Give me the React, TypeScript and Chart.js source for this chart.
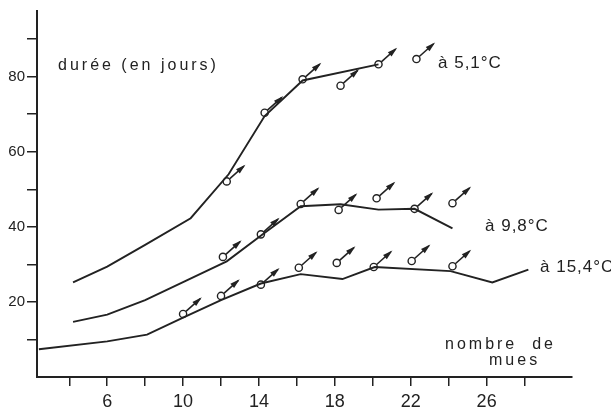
import React, { useEffect, useRef } from "react";
import { Chart, registerables } from "chart.js";

Chart.register(...registerables);

// Curves (duration in days vs number of moults)
const line51 = [
  { x: 4.2, y: 25.2 }, { x: 6, y: 29.4 }, { x: 8, y: 35.2 }, { x: 10.4, y: 42.3 },
  { x: 12.4, y: 54 }, { x: 14.3, y: 69.5 }, { x: 16.3, y: 79 }, { x: 20.3, y: 83.3 },
];
const line98 = [
  { x: 4.2, y: 14.7 }, { x: 6, y: 16.6 }, { x: 8, y: 20.5 }, { x: 10, y: 25.3 },
  { x: 12.3, y: 30.8 }, { x: 14.2, y: 38 }, { x: 16.2, y: 45.5 }, { x: 18.3, y: 46 },
  { x: 20.3, y: 44.6 }, { x: 22.2, y: 44.8 }, { x: 24.2, y: 39.6 },
];
const line154 = [
  { x: 2.4, y: 7.4 }, { x: 6, y: 9.5 }, { x: 8.1, y: 11.3 }, { x: 10, y: 15.8 },
  { x: 12, y: 20.5 }, { x: 14.1, y: 24.9 }, { x: 16.2, y: 27.4 }, { x: 18.4, y: 26.1 },
  { x: 20.1, y: 29.3 }, { x: 24.1, y: 28.2 }, { x: 26.3, y: 25.2 }, { x: 28.2, y: 28.6 },
];

// Moult points (open circles with arrows)
const pts51 = [
  { x: 12.3, y: 52.1 }, { x: 14.3, y: 70.4 }, { x: 16.3, y: 79.3 },
  { x: 18.3, y: 77.6 }, { x: 20.3, y: 83.3 }, { x: 22.3, y: 84.7 },
];
const pts98 = [
  { x: 12.1, y: 32 }, { x: 14.1, y: 38 }, { x: 16.2, y: 46.1 }, { x: 18.2, y: 44.5 },
  { x: 20.2, y: 47.6 }, { x: 22.2, y: 44.8 }, { x: 24.2, y: 46.3 },
];
const pts154 = [
  { x: 10, y: 16.8 }, { x: 12, y: 21.6 }, { x: 14.1, y: 24.6 }, { x: 16.1, y: 29.1 },
  { x: 18.1, y: 30.4 }, { x: 20.05, y: 29.3 }, { x: 22.05, y: 30.9 }, { x: 24.2, y: 29.5 },
];

const xTicks = [4, 6, 8, 10, 12, 14, 16, 18, 20, 22, 24, 26, 28];
const xLabelled = [6, 10, 14, 18, 22, 26];
const yTicks = [10, 20, 30, 40, 50, 60, 70, 80, 90];
const yLabelled = [20, 40, 60, 80];

const yTitle = "durée (en jours)";
const xTitle1 = "nombre  de";
const xTitle2 = "mues";
const seriesLabels = ["à 5,1°C", "à 9,8°C", "à 15,4°C"];

const INK = "#222";
const FONT = "'Liberation Sans', 'DejaVu Sans', sans-serif";

function drawArrow(ctx: CanvasRenderingContext2D, x: number, y: number) {
  const ang = Math.atan2(-16, 18);
  const c = Math.cos(ang), s = Math.sin(ang);
  const r0 = 3.8, len = 25, head = 10, hw = 2.8;
  ctx.beginPath();
  ctx.moveTo(x + r0 * c, y + r0 * s);
  ctx.lineTo(x + (len - 2) * c, y + (len - 2) * s);
  ctx.stroke();
  const tx = x + len * c, ty = y + len * s;
  const bx = x + (len - head) * c, by = y + (len - head) * s;
  ctx.beginPath();
  ctx.moveTo(tx, ty);
  ctx.lineTo(bx - hw * s, by + hw * c);
  ctx.lineTo(bx + hw * s, by - hw * c);
  ctx.closePath();
  ctx.fill();
}

const decorPlugin = {
  id: "decor",
  afterDatasetsDraw(chart: any) {
    const ctx: CanvasRenderingContext2D = chart.ctx;
    ctx.save();
    ctx.strokeStyle = INK;
    ctx.fillStyle = INK;
    ctx.lineWidth = 1.6;
    chart.data.datasets.forEach((ds: any, i: number) => {
      if (!ds.isPoints) return;
      const meta = chart.getDatasetMeta(i);
      meta.data.forEach((el: any) => drawArrow(ctx, el.x, el.y));
    });
    ctx.restore();
  },
  afterDraw(chart: any) {
    const ctx: any = chart.ctx;
    ctx.save();
    ctx.fillStyle = INK;
    ctx.textBaseline = "middle";
    ctx.textAlign = "left";
    ctx.font = `16px ${FONT}`;
    ctx.letterSpacing = "3px";
    ctx.fillText(yTitle, 58, 66);
    ctx.font = `16px ${FONT}`;
    ctx.letterSpacing = "3px";
    ctx.fillText(xTitle1, 445, 345);
    ctx.fillText(xTitle2, 489, 361);
    ctx.font = `17px ${FONT}`;
    ctx.letterSpacing = "1px";
    ctx.fillText(seriesLabels[0], 438, 63);
    ctx.fillText(seriesLabels[1], 485, 226);
    ctx.fillText(seriesLabels[2], 540, 267);
    ctx.restore();
  },
};

export default function App() {
  const ref = useRef<HTMLCanvasElement | null>(null);
  useEffect(() => {
    if (!ref.current) return;
    const lineDs = (data: any[]) => ({
      data,
      borderColor: INK,
      borderWidth: 1.9,
      pointRadius: 0,
      showLine: true,
      tension: 0,
      fill: false,
    });
    const ptDs = (data: any[]) => ({
      data,
      isPoints: true,
      showLine: false,
      pointStyle: "circle",
      pointRadius: 3.6,
      pointBorderColor: INK,
      pointBackgroundColor: "#fff",
      pointBorderWidth: 1.4,
      borderColor: INK,
      backgroundColor: "#fff",
    });
    const chart = new Chart(ref.current, {
      type: "line",
      data: {
        datasets: [
          lineDs(line51), lineDs(line98), lineDs(line154),
          ptDs(pts51), ptDs(pts98), ptDs(pts154),
        ] as any,
      },
      options: {
        responsive: false,
        animation: false,
        events: [],
        layout: { padding: { top: 10, right: 39, left: 0, bottom: 0 } },
        plugins: { legend: { display: false }, tooltip: { enabled: false } },
        scales: {
          x: {
            type: "linear",
            min: 2.3,
            max: 30.5,
            border: { color: INK, width: 2 },
            grid: { drawOnChartArea: false, drawTicks: true, tickLength: 9, color: INK, lineWidth: 1.5 },
            ticks: {
              autoSkip: false,
              maxRotation: 0,
              padding: 5,
              color: INK,
              font: { size: 18, family: FONT },
              callback: (v: any) => (xLabelled.includes(Number(v)) ? String(v) : ""),
            },
            afterBuildTicks: (s: any) => { s.ticks = xTicks.map((v) => ({ value: v })); },
            afterFit: (s: any) => { s.height = 40; },
          },
          y: {
            type: "linear",
            min: 0,
            max: 97.5,
            border: { color: INK, width: 2 },
            grid: { drawOnChartArea: false, drawTicks: true, tickLength: 10, color: INK, lineWidth: 1.5 },
            ticks: {
              autoSkip: false,
              padding: 2,
              color: INK,
              font: { size: 15, family: FONT },
              callback: (v: any) => (yLabelled.includes(Number(v)) ? String(v) : ""),
            },
            afterBuildTicks: (s: any) => { s.ticks = yTicks.map((v) => ({ value: v })); },
            afterFit: (s: any) => { s.width = 37; },
          },
        },
      } as any,
      plugins: [decorPlugin],
    });
    return () => chart.destroy();
  }, []);
  return (
    <div style={{ position: "absolute", left: 0, top: 0, width: 611, height: 417, background: "#fff" }}>
      <canvas ref={ref} width={611} height={417} style={{ display: "block" }} />
    </div>
  );
}
